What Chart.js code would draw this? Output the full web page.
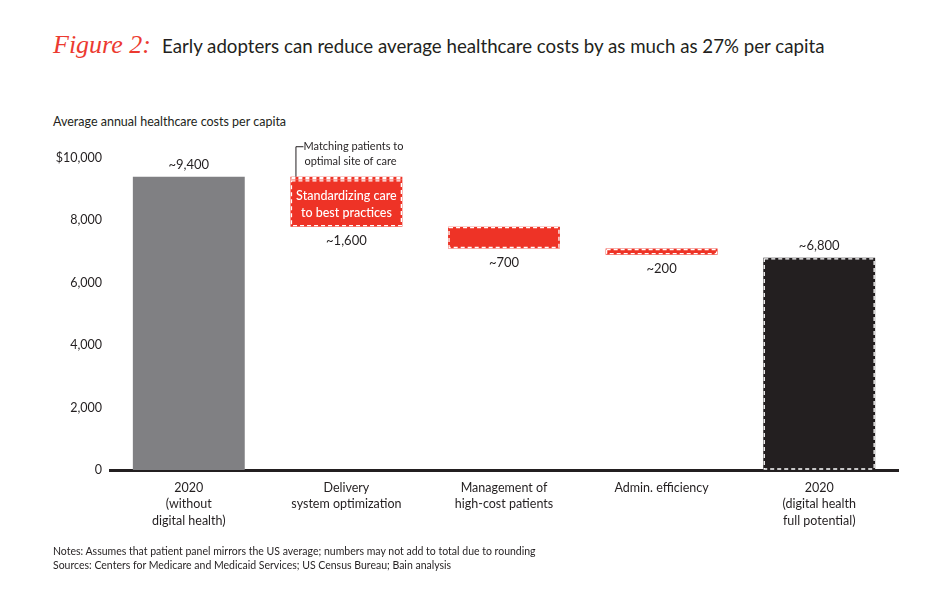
<!DOCTYPE html>
<html lang="en">
  <head>
    <meta charset="UTF-8" />
    <title>Figure 2</title>
    <style>
      body {
        margin: 0;
        padding: 0;
        background-color: #fff;
        font-family: Lato, "Noto Sans", sans-serif;
        color: #231f20;
      }

      .page {
        position: relative;
        width: 950px;
        height: 605px;
        overflow: hidden;
      }

      #myChart {
        position: absolute;
        left: 0;
        top: 0;
      }

      .title {
        position: absolute;
        left: 53px;
        top: 30px;
        font-size: 18.7px;
        white-space: nowrap;
      }

      .title .fig {
        font-family: "Liberation Serif", serif;
        font-style: italic;
        color: #ec3a30;
        font-size: 26px;
        margin-right: 11px;
      }

      .subtitle {
        position: absolute;
        left: 53px;
        top: 114px;
        font-size: 12.5px;
      }

      .notes {
        position: absolute;
        left: 53px;
        top: 544px;
        font-size: 10.5px;
        line-height: 14px;
      }
    </style>
  </head>
  <body>
    <div class="page">
      <div class="title">
        <span class="fig">Figure 2:</span>Early adopters can reduce average healthcare costs by as much as 27% per capita
      </div>
      <div class="subtitle">Average annual healthcare costs per capita</div>
      <canvas id="myChart" width="950" height="605"></canvas>
      <div class="notes">
        Notes: Assumes that patient panel mirrors the US average; numbers may not add to total due to rounding<br />
        Sources: Centers for Medicare and Medicaid Services; US Census Bureau; Bain analysis
      </div>
    </div>
    <script src="https://cdn.jsdelivr.net/npm/chart.js"></script>
    <script>
      const categories = [
        ["2020", "(without", "digital health)"],
        ["Delivery", "system optimization"],
        ["Management of", "high-cost patients"],
        ["Admin. efficiency"],
        ["2020", "(digital health", "full potential)"],
      ];

      // totals drawn from zero, reductions drawn as floating [low, high]
      const totals = [[0, 9400], null, null, null, [0, 6800]];
      const reductions = [null, [7800, 9300], [7100, 7800], [6900, 7100], null];
      const matchingSite = [null, [9300, 9400], null, null, null];

      const valueLabels = ["~9,400", "~1,600", "~700", "~200", "~6,800"];
      const labelAbove = [true, false, false, false, true];

      const yTickLabels = ["0", "2,000", "4,000", "6,000", "8,000", "$10,000"];

      const insideText = ["Standardizing care", "to best practices"];
      const calloutText = ["Matching patients to", "optimal site of care"];

      const ink = "#231f20";
      const red = "#ee3326";
      const font = "Lato, 'Noto Sans', sans-serif";

      const waterfallPlugin = {
        id: "waterfallExtras",
        afterDatasetsDraw(chart) {
          const ctx = chart.ctx;
          ctx.save();

          // white dashed outline on the red and black bars
          chart.data.datasets.forEach((ds, di) => {
            const meta = chart.getDatasetMeta(di);
            meta.data.forEach((bar, i) => {
              if (!ds.data[i] || !ds.dashed[i]) return;
              const left = bar.x - bar.width / 2;
              const top = Math.min(bar.y, bar.base);
              const h = Math.abs(bar.base - bar.y);
              ctx.strokeStyle = "#fff";
              ctx.lineWidth = 1.3;
              ctx.setLineDash([4, 3]);
              ctx.strokeRect(left + 1, top + 1, bar.width - 2, h - 2);
            });
          });
          ctx.setLineDash([]);

          // value labels
          const totalMeta = chart.getDatasetMeta(0);
          const redMeta = chart.getDatasetMeta(1);
          ctx.fillStyle = ink;
          ctx.font = "13px " + font;
          ctx.textAlign = "center";
          ctx.textBaseline = "middle";
          valueLabels.forEach((txt, i) => {
            const bar = totals[i] ? totalMeta.data[i] : redMeta.data[i];
            const top = Math.min(bar.y, bar.base);
            const bottom = Math.max(bar.y, bar.base);
            const y = labelAbove[i] ? top - 12 : bottom + 14;
            ctx.fillText(txt, bar.x, y);
          });

          // text inside the delivery bar
          const dBar = redMeta.data[1];
          const mid = (dBar.y + dBar.base) / 2;
          ctx.fillStyle = "#fff";
          ctx.font = "500 12.5px " + font;
          ctx.fillText(insideText[0], dBar.x, mid - 7);
          ctx.fillText(insideText[1], dBar.x, mid + 10);

          // callout for the thin top segment
          const mBar = chart.getDatasetMeta(2).data[1];
          const lx = mBar.x - mBar.width / 2 + 5;
          const ty = mBar.y - 30;
          ctx.strokeStyle = ink;
          ctx.lineWidth = 1;
          ctx.beginPath();
          ctx.moveTo(lx + 0.5, mBar.y);
          ctx.lineTo(lx + 0.5, ty);
          ctx.lineTo(lx + 8, ty);
          ctx.stroke();
          ctx.fillStyle = ink;
          ctx.font = "11px " + font;
          ctx.textAlign = "left";
          ctx.fillText(calloutText[0], lx + 8, ty);
          ctx.fillText(calloutText[1], lx + 9, ty + 15);

          ctx.restore();
        },
      };

      const ctx = document.getElementById("myChart").getContext("2d");
      new Chart(ctx, {
        type: "bar",
        data: {
          labels: categories,
          datasets: [
            {
              label: "Totals",
              data: totals,
              backgroundColor: ["#808083", null, null, null, ink],
              dashed: [false, false, false, false, true],
            },
            {
              label: "Reductions",
              data: reductions,
              backgroundColor: red,
              dashed: [false, true, true, true, false],
            },
            {
              label: "Matching patients to optimal site of care",
              data: matchingSite,
              backgroundColor: red,
              dashed: [false, true, false, false, false],
            },
          ],
        },
        options: {
          responsive: false,
          animation: false,
          grouped: false,
          barPercentage: 0.71,
          categoryPercentage: 1,
          layout: {
            padding: { left: 42, right: 52, top: 158, bottom: 75 },
          },
          plugins: {
            legend: { display: false },
            tooltip: { enabled: false },
          },
          scales: {
            x: {
              grid: { display: false, drawTicks: false },
              border: { display: true, color: ink, width: 3 },
              ticks: {
                color: ink,
                padding: 10,
                maxRotation: 0,
                autoSkip: false,
                font: { family: font, size: 12.5, lineHeight: 1.3 },
              },
              afterFit(scale) {
                scale.height = 60;
              },
            },
            y: {
              min: 0,
              max: 10000,
              grid: { display: false, drawTicks: false },
              border: { display: false },
              ticks: {
                stepSize: 2000,
                color: ink,
                padding: 8,
                font: { family: font, size: 12.5 },
                callback: (value, index) => yTickLabels[index],
              },
              afterFit(scale) {
                scale.width = 68;
              },
            },
          },
        },
        plugins: [waterfallPlugin],
      });
    </script>
  </body>
</html>
